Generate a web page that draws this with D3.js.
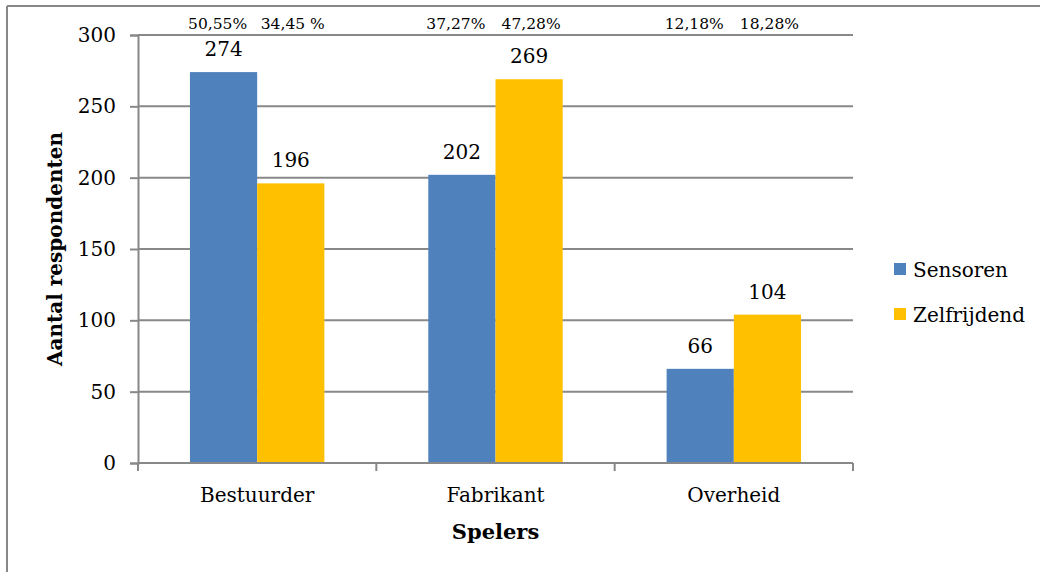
<!DOCTYPE html>
<html>
<head>
<meta charset="utf-8">
<script src="https://cdn.jsdelivr.net/npm/d3@7/dist/d3.min.js"></script>
<style>
  html, body { margin: 0; padding: 0; background: #fff; }
  svg { display: block; }
  text { font-family: "DejaVu Serif", serif; fill: #000; }
</style>
</head>
<body>
<svg id="chart" width="1040" height="572"></svg>
<script>
// Respondents per player, for sensors and self-driving cars
const categories = ["Bestuurder", "Fabrikant", "Overheid"];
const seriesNames = ["Sensoren", "Zelfrijdend"];
const sensoren = [274, 202, 66];
const zelfrijdend = [196, 269, 104];
const sensorenPct = ["50,55%", "37,27%", "12,18%"];
const zelfrijdendPct = ["34,45 %", "47,28%", "18,28%"];
const yTicks = [0, 50, 100, 150, 200, 250, 300];
const colors = ["#4F81BD", "#FFC000"];

const svg = d3.select("#chart");
const margin = { left: 138, right: 1040 - 853, top: 35, bottom: 572 - 463 };
const W = 1040, H = 572;
const gridColor = "#888888";

// outer frame (top and left edges)
svg.append("line").attr("x1", 7).attr("x2", W).attr("y1", 6).attr("y2", 6)
  .attr("stroke", gridColor).attr("stroke-width", 2);
svg.append("line").attr("x1", 7).attr("x2", 7).attr("y1", 6).attr("y2", H)
  .attr("stroke", gridColor).attr("stroke-width", 2);

const x0 = d3.scaleBand().domain(categories)
  .range([margin.left, W - margin.right]).paddingInner(0.436).paddingOuter(0.218);
const x1 = d3.scaleBand().domain(seriesNames).range([0, x0.bandwidth()]);
const y = d3.scaleLinear().domain([0, 300]).range([H - margin.bottom, margin.top]);

// horizontal gridlines
svg.append("g").selectAll("line").data(yTicks.filter(d => d > 0)).join("line")
  .attr("x1", margin.left).attr("x2", W - margin.right)
  .attr("y1", d => y(d)).attr("y2", d => y(d))
  .attr("stroke", gridColor).attr("stroke-width", 2);

// y axis
const yAxis = svg.append("g").attr("transform", `translate(${margin.left},0)`)
  .call(d3.axisLeft(y).tickValues(yTicks).tickSize(8).tickPadding(14));
yAxis.select(".domain").attr("stroke", gridColor).attr("stroke-width", 2);
yAxis.selectAll(".tick line").attr("stroke", gridColor).attr("stroke-width", 2);
yAxis.selectAll(".tick text").attr("font-size", 20).attr("font-family", "DejaVu Serif").attr("fill", "#000");

// bars
const rows = categories.map((c, i) => ({ cat: c, vals: [sensoren[i], zelfrijdend[i]], pct: [sensorenPct[i], zelfrijdendPct[i]] }));
const groups = svg.append("g").selectAll("g").data(rows).join("g")
  .attr("transform", d => `translate(${x0(d.cat)},0)`);
groups.selectAll("rect").data(d => d.vals.map((v, j) => ({ s: seriesNames[j], v, j }))).join("rect")
  .attr("x", d => x1(d.s)).attr("width", x1.bandwidth())
  .attr("y", d => y(d.v)).attr("height", d => y(0) - y(d.v))
  .attr("fill", d => colors[d.j]);

// value labels
groups.selectAll("text.val").data(d => d.vals.map((v, j) => ({ s: seriesNames[j], v }))).join("text")
  .attr("class", "val")
  .attr("x", d => x1(d.s) + x1.bandwidth() / 2).attr("y", d => y(d.v) - 16)
  .attr("text-anchor", "middle").attr("font-size", 20).text(d => d.v);

// percentage labels at the top
groups.selectAll("text.pct").data(d => d.pct.map((p, j) => ({ s: seriesNames[j], p, j }))).join("text")
  .attr("class", "pct")
  .attr("x", d => x1(d.s) + x1.bandwidth() / 2 + (d.j === 0 ? -6 : 2)).attr("y", 29)
  .attr("text-anchor", "middle").attr("font-size", 15.5).text(d => d.p);

// x axis
const xAxisY = y(0);
svg.append("line").attr("x1", margin.left).attr("x2", W - margin.right)
  .attr("y1", xAxisY).attr("y2", xAxisY).attr("stroke", gridColor).attr("stroke-width", 2);
const bounds = [0, 1, 2, 3].map(i => margin.left + i * (W - margin.left - margin.right) / 3);
svg.append("g").selectAll("line").data(bounds).join("line")
  .attr("x1", d => d).attr("x2", d => d).attr("y1", xAxisY).attr("y2", xAxisY + 8)
  .attr("stroke", gridColor).attr("stroke-width", 2);
svg.append("g").selectAll("text").data(categories).join("text")
  .attr("x", d => x0(d) + x0.bandwidth() / 2).attr("y", 502)
  .attr("text-anchor", "middle").attr("font-size", 20).text(d => d);

// axis titles
svg.append("text").attr("x", (margin.left + W - margin.right) / 2).attr("y", 539)
  .attr("text-anchor", "middle").attr("font-size", 21).attr("font-weight", "bold").text("Spelers");
svg.append("text").attr("transform", `translate(62,${(y(0) + y(300)) / 2}) rotate(-90)`)
  .attr("text-anchor", "middle").attr("font-size", 20).attr("font-weight", "bold").text("Aantal respondenten");

// legend
const legend = svg.append("g").selectAll("g").data(seriesNames).join("g")
  .attr("transform", (d, i) => `translate(894,${263 + i * 45})`);
legend.append("rect").attr("width", 12).attr("height", 12).attr("fill", (d, i) => colors[i]);
legend.append("text").attr("x", 19).attr("y", 14).attr("font-size", 20).text(d => d);
</script>
</body>
</html>
